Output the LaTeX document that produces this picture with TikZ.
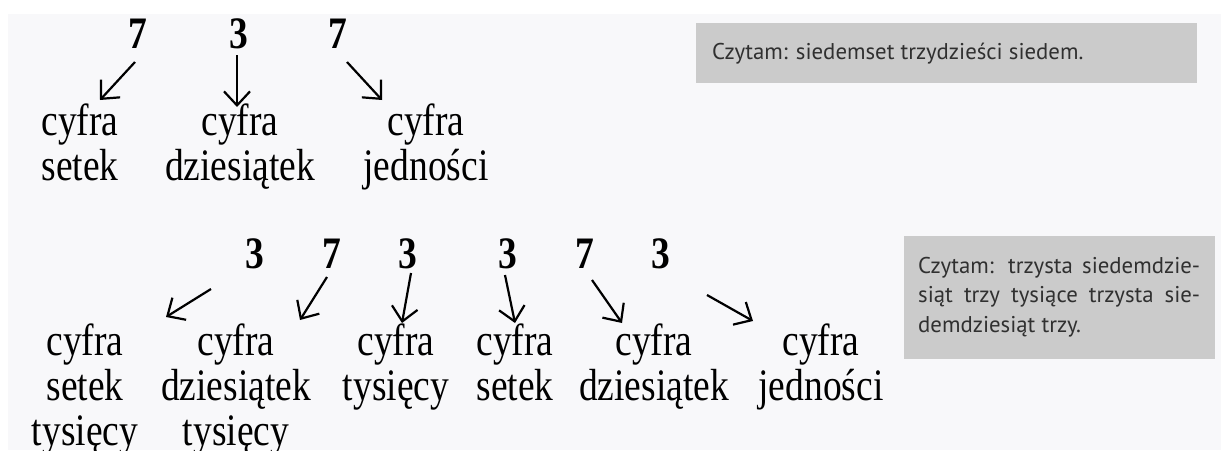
\documentclass[tikz,border=0pt]{standalone}
\usepackage{graphicx}
\usepackage{fontspec}
\setmainfont{Liberation Serif}
\newfontfamily\readfont{PT Sans}
\usetikzlibrary{arrows.meta}

\definecolor{paper}{HTML}{F8F8FA}
\definecolor{boxgray}{HTML}{CBCBCB}
\definecolor{readink}{HTML}{303030}

\newcommand{\tall}[1]{\scalebox{1}[1.2]{#1}}
\newcommand{\rows}[1]{\tall{\begin{tabular}[t]{@{}c@{}}#1\end{tabular}}}

\tikzset{
  digit/.style={anchor=base, inner sep=0pt, font=\fontsize{37.5}{37.5}\selectfont\bfseries},
  desc/.style={anchor=base, inner sep=0pt, font=\fontsize{37.5}{37.5}\selectfont},
  arr/.style={-{Straight Barb[length=14pt,width=26pt]}, line width=2.2pt},
  readtext/.style={anchor=base west, inner sep=0pt, text=readink, font=\readfont\fontsize{22.8}{29.5}\selectfont},
}

\begin{document}
\begin{tikzpicture}[x=1pt,y=-1pt]
  \useasboundingbox (0,0) rectangle (1221,450);
  \fill[white] (0,0) rectangle (1221,450);
  \fill[paper] (8,14) rectangle (1221,450);

  % 737
  \node[digit] (t1) at (138,48) {\tall{7}};
  \node[digit] (t2) at (239,48) {\tall{3}};
  \node[digit] (t3) at (338,48) {\tall{7}};

  \node[desc] (ts) at (80,135)  {\rows{cyfra\\setek}};
  \node[desc] (td) at (240,135) {\rows{cyfra\\dziesiątek}};
  \node[desc] (tj) at (426,135) {\rows{cyfra\\jedności}};

  \coordinate (ta1) at (135,62);  \coordinate (tb1) at (100,100);
  \coordinate (ta2) at (237,55);  \coordinate (tb2) at (237,107);
  \coordinate (ta3) at (347,62);  \coordinate (tb3) at (382,100);
  \draw[arr] (ta1) -- (tb1);
  \draw[arr] (ta2) -- (tb2);
  \draw[arr] (ta3) -- (tb3);

  \fill[boxgray] (696,23) rectangle (1197,83);
  \node[readtext] (read1) at (712,59) {Czytam: siedemset trzydzieści siedem.};

  % 373 373
  \node[digit] (b1) at (255,268) {\tall{3}};
  \node[digit] (b2) at (332,268) {\tall{7}};
  \node[digit] (b3) at (408,268) {\tall{3}};
  \node[digit] (b4) at (508,268) {\tall{3}};
  \node[digit] (b5) at (585,268) {\tall{7}};
  \node[digit] (b6) at (661,268) {\tall{3}};

  \node[desc] (bst) at (85,355)  {\rows{cyfra\\setek\\tysięcy}};
  \node[desc] (bdt) at (236,355) {\rows{cyfra\\dziesiątek\\tysięcy}};
  \node[desc] (bt)  at (396,355) {\rows{cyfra\\tysięcy}};
  \node[desc] (bs)  at (515,355) {\rows{cyfra\\setek}};
  \node[desc] (bd)  at (654,355) {\rows{cyfra\\dziesiątek}};
  \node[desc] (bj)  at (821,355) {\rows{cyfra\\jedności}};

  \coordinate (ba1) at (211,289); \coordinate (bb1) at (166,317);
  \coordinate (ba2) at (327,277); \coordinate (bb2) at (300,320);
  \coordinate (ba3) at (411,273); \coordinate (bb3) at (402,323);
  \coordinate (ba4) at (505,275); \coordinate (bb4) at (515,323);
  \coordinate (ba5) at (592,280); \coordinate (bb5) at (622,323);
  \coordinate (ba6) at (707,295); \coordinate (bb6) at (753,321);
  \draw[arr] (ba1) -- (bb1);
  \draw[arr] (ba2) -- (bb2);
  \draw[arr] (ba3) -- (bb3);
  \draw[arr] (ba4) -- (bb4);
  \draw[arr] (ba5) -- (bb5);
  \draw[arr] (ba6) -- (bb6);

  \fill[boxgray] (904,236) rectangle (1215,359);
  \node[readtext] (read2) at (918,273) {\begin{tabular}[t]{@{}l@{}}
    \makebox[282pt][s]{Czytam: trzysta siedemdzie-}\\
    \makebox[282pt][s]{siąt trzy tysiące trzysta sie-}\\
    demdziesiąt trzy.\end{tabular}};
\end{tikzpicture}
\end{document}
